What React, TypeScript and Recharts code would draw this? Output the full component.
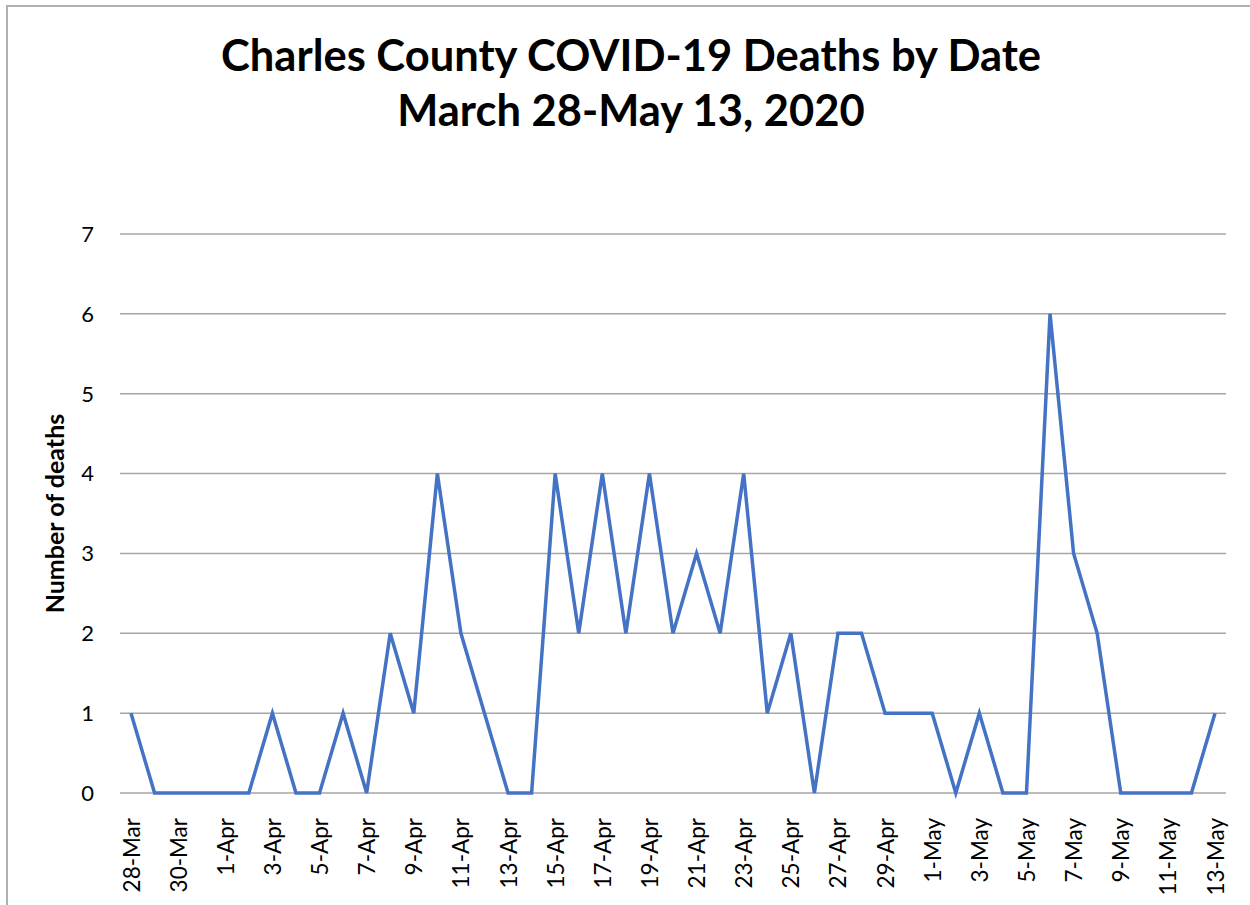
import { CartesianGrid, Line, LineChart, XAxis, YAxis } from "recharts";

const dates = [
  "28-Mar", "29-Mar", "30-Mar", "31-Mar",
  "1-Apr", "2-Apr", "3-Apr", "4-Apr", "5-Apr", "6-Apr", "7-Apr", "8-Apr", "9-Apr", "10-Apr",
  "11-Apr", "12-Apr", "13-Apr", "14-Apr", "15-Apr", "16-Apr", "17-Apr", "18-Apr", "19-Apr", "20-Apr",
  "21-Apr", "22-Apr", "23-Apr", "24-Apr", "25-Apr", "26-Apr", "27-Apr", "28-Apr", "29-Apr", "30-Apr",
  "1-May", "2-May", "3-May", "4-May", "5-May", "6-May", "7-May", "8-May", "9-May", "10-May",
  "11-May", "12-May", "13-May",
];

const deaths = [
  1, 0, 0, 0,
  0, 0, 1, 0, 0, 1, 0, 2, 1, 4,
  2, 1, 0, 0, 4, 2, 4, 2, 4, 2,
  3, 2, 4, 1, 2, 0, 2, 2, 1, 1,
  1, 0, 1, 0, 0, 6, 3, 2, 0, 0,
  0, 0, 1,
];

const yTicks = [0, 1, 2, 3, 4, 5, 6, 7];

const data = dates.map((date, i) => ({ date, deaths: deaths[i] }));

const font = "Lato, 'Open Sans', sans-serif";

const DateTick = (props: any) => {
  const { x, y, payload } = props;
  return (
    <text
      x={0}
      y={0}
      transform={`translate(${x},${y + 17}) rotate(-90)`}
      textAnchor="end"
      dominantBaseline="central"
      fontSize={22.5}
      fontFamily={font}
      fill="#000"
    >
      {payload.value}
    </text>
  );
};

export default function App() {
  return (
    <div
      style={{
        position: "absolute",
        top: 0,
        left: 0,
        width: 1250,
        height: 905,
        background: "#fff",
        fontFamily: font,
      }}
    >
      <div
        style={{
          position: "absolute",
          left: 6,
          top: 5,
          right: 0,
          bottom: 0,
          borderLeft: "2px solid #b0b0b0",
          borderTop: "2px solid #b0b0b0",
        }}
      />
      <div
        style={{
          position: "absolute",
          top: 27,
          left: 0,
          width: 1262,
          textAlign: "center",
          fontWeight: 700,
          fontSize: 43.5,
          lineHeight: "55px",
          color: "#000",
        }}
      >
        Charles County COVID-19 Deaths by Date
        <br />
        March 28-May 13, 2020
      </div>
      <div style={{ position: "absolute", top: 0, left: 0 }}>
        <LineChart
          width={1250}
          height={905}
          data={data}
          margin={{ top: 234, right: 24, bottom: 0, left: 0 }}
        >
          <CartesianGrid stroke="#a6a6a6" strokeWidth={1.5} vertical={false} />
          <XAxis
            dataKey="date"
            interval={1}
            height={112}
            padding={{ left: 11, right: 11 }}
            axisLine={false}
            tickLine={false}
            tick={<DateTick />}
          />
          <YAxis
            width={120}
            domain={[0, 7]}
            ticks={yTicks}
            axisLine={false}
            tickLine={false}
            tickSize={0}
            tickMargin={26}
            tick={{ fill: "#000", fontSize: 22, fontFamily: font }}
            label={{
              value: "Number of deaths",
              angle: -90,
              position: "insideLeft",
              dx: 50,
              style: { fontWeight: 700, fontSize: 25, fill: "#000", textAnchor: "middle", fontFamily: font },
            }}
          />
          <Line
            type="linear"
            dataKey="deaths"
            stroke="#4472c4"
            strokeWidth={3.5}
            dot={false}
            isAnimationActive={false}
          />
        </LineChart>
      </div>
    </div>
  );
}
